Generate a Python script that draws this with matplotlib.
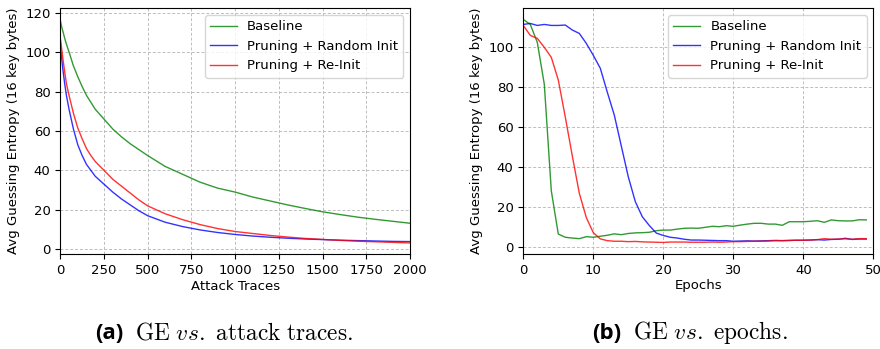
import numpy as np
import matplotlib.pyplot as plt

plt.rcParams['mathtext.fontset'] = 'cm'

# (a) GE vs. attack traces
traces = [0, 5, 10, 15, 25, 35, 50, 75, 100, 125, 150, 175, 200, 250, 300, 350, 400, 450,
          500, 600, 700, 800, 900, 1000, 1100, 1200, 1300, 1400, 1500, 1600, 1700, 1800,
          1900, 2000]
ge_base_tr = [116, 114, 112, 110.5, 107, 104, 100, 93, 87.5, 82.5, 78, 74.5, 71, 66, 61, 57,
              53.5, 50.5, 47.5, 42, 38, 34, 31, 29, 26.5, 24.5, 22.5, 20.7, 19, 17.6, 16.3,
              15.2, 14.2, 13.2]
ge_rand_tr = [103, 99, 95, 91, 84, 78, 71, 61, 53, 47.5, 43, 40, 37, 33, 29, 25.5, 22.5, 19.5,
              17, 13.7, 11.5, 9.8, 8.5, 7.5, 6.7, 6.1, 5.6, 5.2, 4.9, 4.6, 4.4, 4.2, 4.0, 3.9]
ge_reinit_tr = [107, 104, 100, 96.5, 90, 84, 78, 69, 61.5, 56, 51, 47.5, 44.5, 40, 35.5, 32,
                28.5, 25, 22, 18, 15, 12.5, 10.5, 9, 8, 7, 6.2, 5.5, 5, 4.5, 4.1, 3.8, 3.5, 3.2]

# (b) GE vs. epochs
epochs = list(range(50))
ge_base_ep = [114, 111.5, 102.5, 81.5, 28, 6.3, 4.7, 4.3, 4.0, 5.0, 4.7, 5.2, 5.7, 6.4, 6.0,
              6.6, 6.9, 7.0, 7.2, 8.0, 8.3, 8.3, 8.8, 9.2, 9.3, 9.2, 9.7, 10.2, 10.0, 10.5,
              10.2, 10.8, 11.3, 11.7, 11.7, 11.3, 11.3, 10.7, 12.5, 12.5, 12.5, 12.7, 13.0,
              12.2, 13.4, 13.0, 12.9, 12.9, 13.5, 13.4]
ge_rand_ep = [111.5, 112, 111, 111.5, 111, 111, 111.2, 108.7, 107, 102, 96, 89.5, 77.5, 66,
              50.5, 35, 22.6, 15, 10.6, 6.8, 5.6, 4.7, 4.3, 3.7, 3.3, 3.3, 3.2, 3.1, 3.0,
              3.0, 2.7, 2.8, 2.9, 2.8, 2.9, 3.0, 3.1, 3.0, 3.1, 3.2, 3.2, 3.3, 3.5, 3.3,
              3.6, 3.7, 4.2, 3.6, 3.8, 3.8]
ge_reinit_ep = [111, 106, 104.5, 100, 95, 83.6, 65, 45.5, 26.8, 14.6, 7.0, 3.9, 3.0, 2.7,
                2.7, 2.5, 2.6, 2.4, 2.3, 2.2, 2.1, 2.3, 2.3, 2.3, 2.2, 2.2, 2.2, 2.3, 2.2,
                2.3, 2.5, 2.5, 2.6, 2.7, 2.7, 2.8, 3.0, 3.0, 3.1, 3.2, 3.2, 3.3, 3.5, 4.0,
                3.7, 3.8, 3.9, 3.7, 4.0, 4.0]

labels = ['Baseline', 'Pruning + Random Init', 'Pruning + Re-Init']
colors = ['g', 'b', 'r']

fig = plt.figure(figsize=(8.8, 3.49), dpi=100)
ax1 = fig.add_axes([60.3 / 880, 95 / 349, 349.7 / 880, 245.7 / 349])
ax2 = fig.add_axes([523.3 / 880, 95 / 349, 350 / 880, 245.7 / 349])

for ax, x, series in [(ax1, traces, [ge_base_tr, ge_rand_tr, ge_reinit_tr]),
                      (ax2, epochs, [ge_base_ep, ge_rand_ep, ge_reinit_ep])]:
    for y, c, lab in zip(series, colors, labels):
        ax.plot(x, y, color=c, lw=1.0, alpha=0.8, label=lab)
    ax.grid(True, linestyle=(0, (3, 2)), color='#bdbdbd', lw=0.7)
    ax.set_ylabel('Avg Guessing Entropy (16 key bytes)', fontsize=9.5)
    ax.tick_params(labelsize=9.5)
    ax.legend(loc='upper right', fontsize=9.5)

ax1.set_xlim(0, 2000)
ax1.set_ylim(-2.4, 122.2)
ax1.set_xticks(np.arange(0, 2001, 250))
ax1.set_xlabel('Attack Traces', fontsize=9.5, labelpad=2)

ax2.set_xlim(0, 50)
ax2.set_ylim(-3.7, 119.6)
ax2.set_xticks(np.arange(0, 51, 10))
ax2.set_xlabel('Epochs', fontsize=9.5, labelpad=2)

# captions
ypos = 1 - 339 / 349
fig.text(95 / 880, ypos, '(a)', family='Open Sans', weight='bold', fontsize=16, va='baseline')
fig.text(135 / 880, ypos, r'$\mathrm{GE}\ \mathit{vs.}\ \mathrm{attack\ traces.}$', fontsize=16.8, va='baseline')
fig.text(592 / 880, ypos, '(b)', family='Open Sans', weight='bold', fontsize=16, va='baseline')
fig.text(633 / 880, ypos, r'$\mathrm{GE}\ \mathit{vs.}\ \mathrm{epochs.}$', fontsize=16.8, va='baseline')

fig.savefig('out.png', dpi=100)
